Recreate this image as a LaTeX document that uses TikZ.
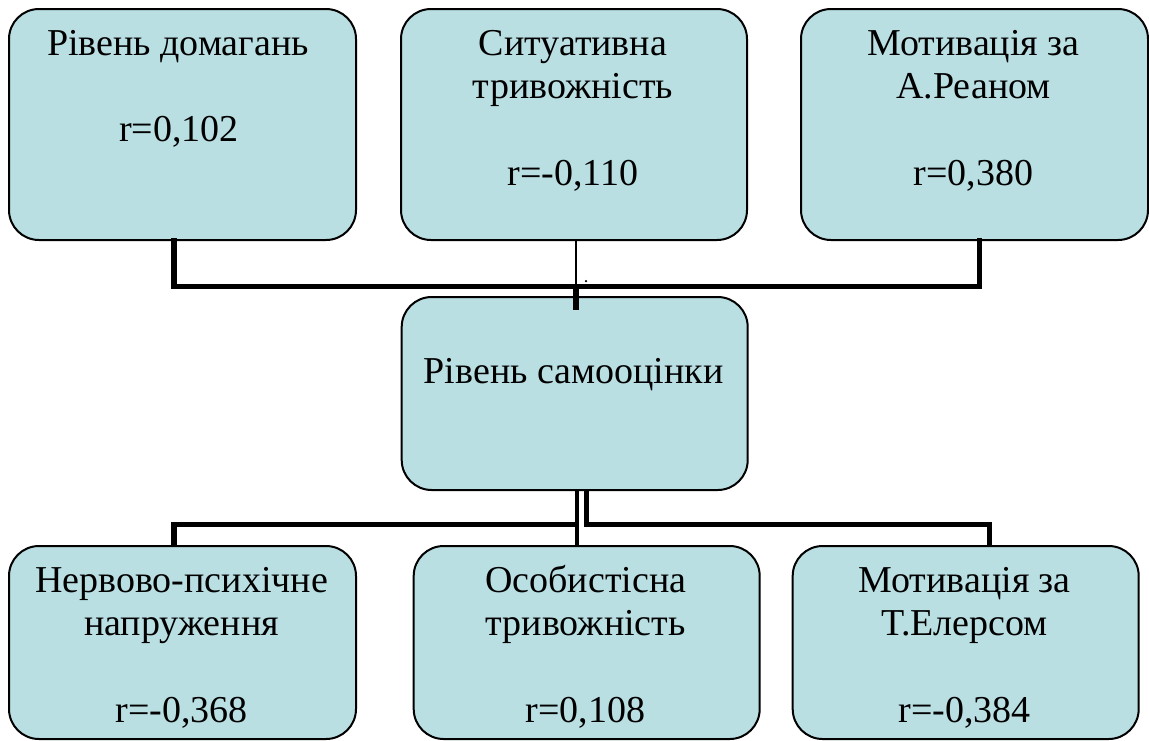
\documentclass[tikz,border=0pt]{standalone}
\usepackage{fontspec}
\setmainfont{Liberation Serif}
\definecolor{boxfill}{RGB}{185,223,227}
\tikzset{
  factor/.style={draw=black, line width=2pt, fill=boxfill, rounded corners=30pt,
    inner sep=0pt, anchor=north west},
  txt/.style={anchor=base, inner sep=0pt, font=\fontsize{38}{44}\selectfont},
  heavy/.style={line width=5.3pt, line join=miter, line cap=rect},
  light/.style={line width=2.5pt},
}
\begin{document}
\begin{tikzpicture}[x=1pt, y=-1pt]
\useasboundingbox (0,0) rectangle (1149,740);

% top row
\node[factor, minimum width=347pt, minimum height=231pt] (b1) at (8,8) {};
\node[factor, minimum width=346pt, minimum height=231pt] (b2) at (400,8) {};
\node[factor, minimum width=347pt, minimum height=231pt] (b3) at (800,8) {};
% central factor
\node[factor, minimum width=346pt, minimum height=193pt] (c) at (400.7,296) {};
% bottom row
\node[factor, minimum width=347pt, minimum height=193pt] (b4) at (8,545) {};
\node[factor, minimum width=346pt, minimum height=193pt] (b5) at (412.7,545) {};
\node[factor, minimum width=346pt, minimum height=193pt] (b6) at (791.7,545) {};

% labels, top row
\node[txt] (b1a) at (178,55) {Рівень домагань};
\node[txt] (b1r) at (179,141.5) {r=0,102};
\node[txt] (b2a) at (573,55) {Ситуативна};
\node[txt] (b2b) at (573,98.5) {тривожність};
\node[txt] (b2r) at (573,185.5) {r=-0,110};
\node[txt] (b3a) at (973.5,55) {Мотивація за};
\node[txt] (b3b) at (973.5,98.5) {А.Реаном};
\node[txt] (b3r) at (973.5,185.5) {r=0,380};
% central label
\node[txt] (ca) at (573.7,383) {Рівень самооцінки};
% labels, bottom row
\node[txt] (b4a) at (181.5,592) {Нервово-психічне};
\node[txt] (b4b) at (181.5,635.5) {напруження};
\node[txt] (b4r) at (181.5,722) {r=-0,368};
\node[txt] (b5a) at (585.7,592) {Особистісна};
\node[txt] (b5b) at (585.7,635.5) {тривожність};
\node[txt] (b5r) at (585.7,722) {r=0,108};
\node[txt] (b6a) at (964.7,592) {Мотивація за};
\node[txt] (b6b) at (964.7,635.5) {Т.Елерсом};
\node[txt] (b6r) at (964.7,722) {r=-0,384};

% upper junctions
\coordinate (ul) at (174,286.5);
\coordinate (um) at (576,286.5);
\coordinate (ur) at (979.5,286.5);
\coordinate (stub) at (576,310);
\draw[heavy] (b1.south -| ul) -- (ul) -- (ur) -- (b3.south -| ur);
\draw[light] (b2.south -| um) -- (um);
\draw[heavy, line cap=butt] (um) -- (stub);
\node[circle, fill=black, inner sep=0pt, minimum size=2.5pt] (speck) at (586,281) {};

% lower junctions
\coordinate (ll) at (174,524.5);
\coordinate (lm) at (577,524.5);
\coordinate (rm) at (586.7,524.5);
\coordinate (lr) at (989.5,524.5);
\draw[heavy, line width=4.6pt, line cap=butt] (c.south -| lm) -- (b5.north -| lm);
\draw[heavy, line cap=butt] (lm) -- (ll) -- (b4.north -| ll);
\draw[heavy, line cap=butt] (c.south -| rm) -- (rm) -- (lr) -- (b6.north -| lr);
\end{tikzpicture}
\end{document}
